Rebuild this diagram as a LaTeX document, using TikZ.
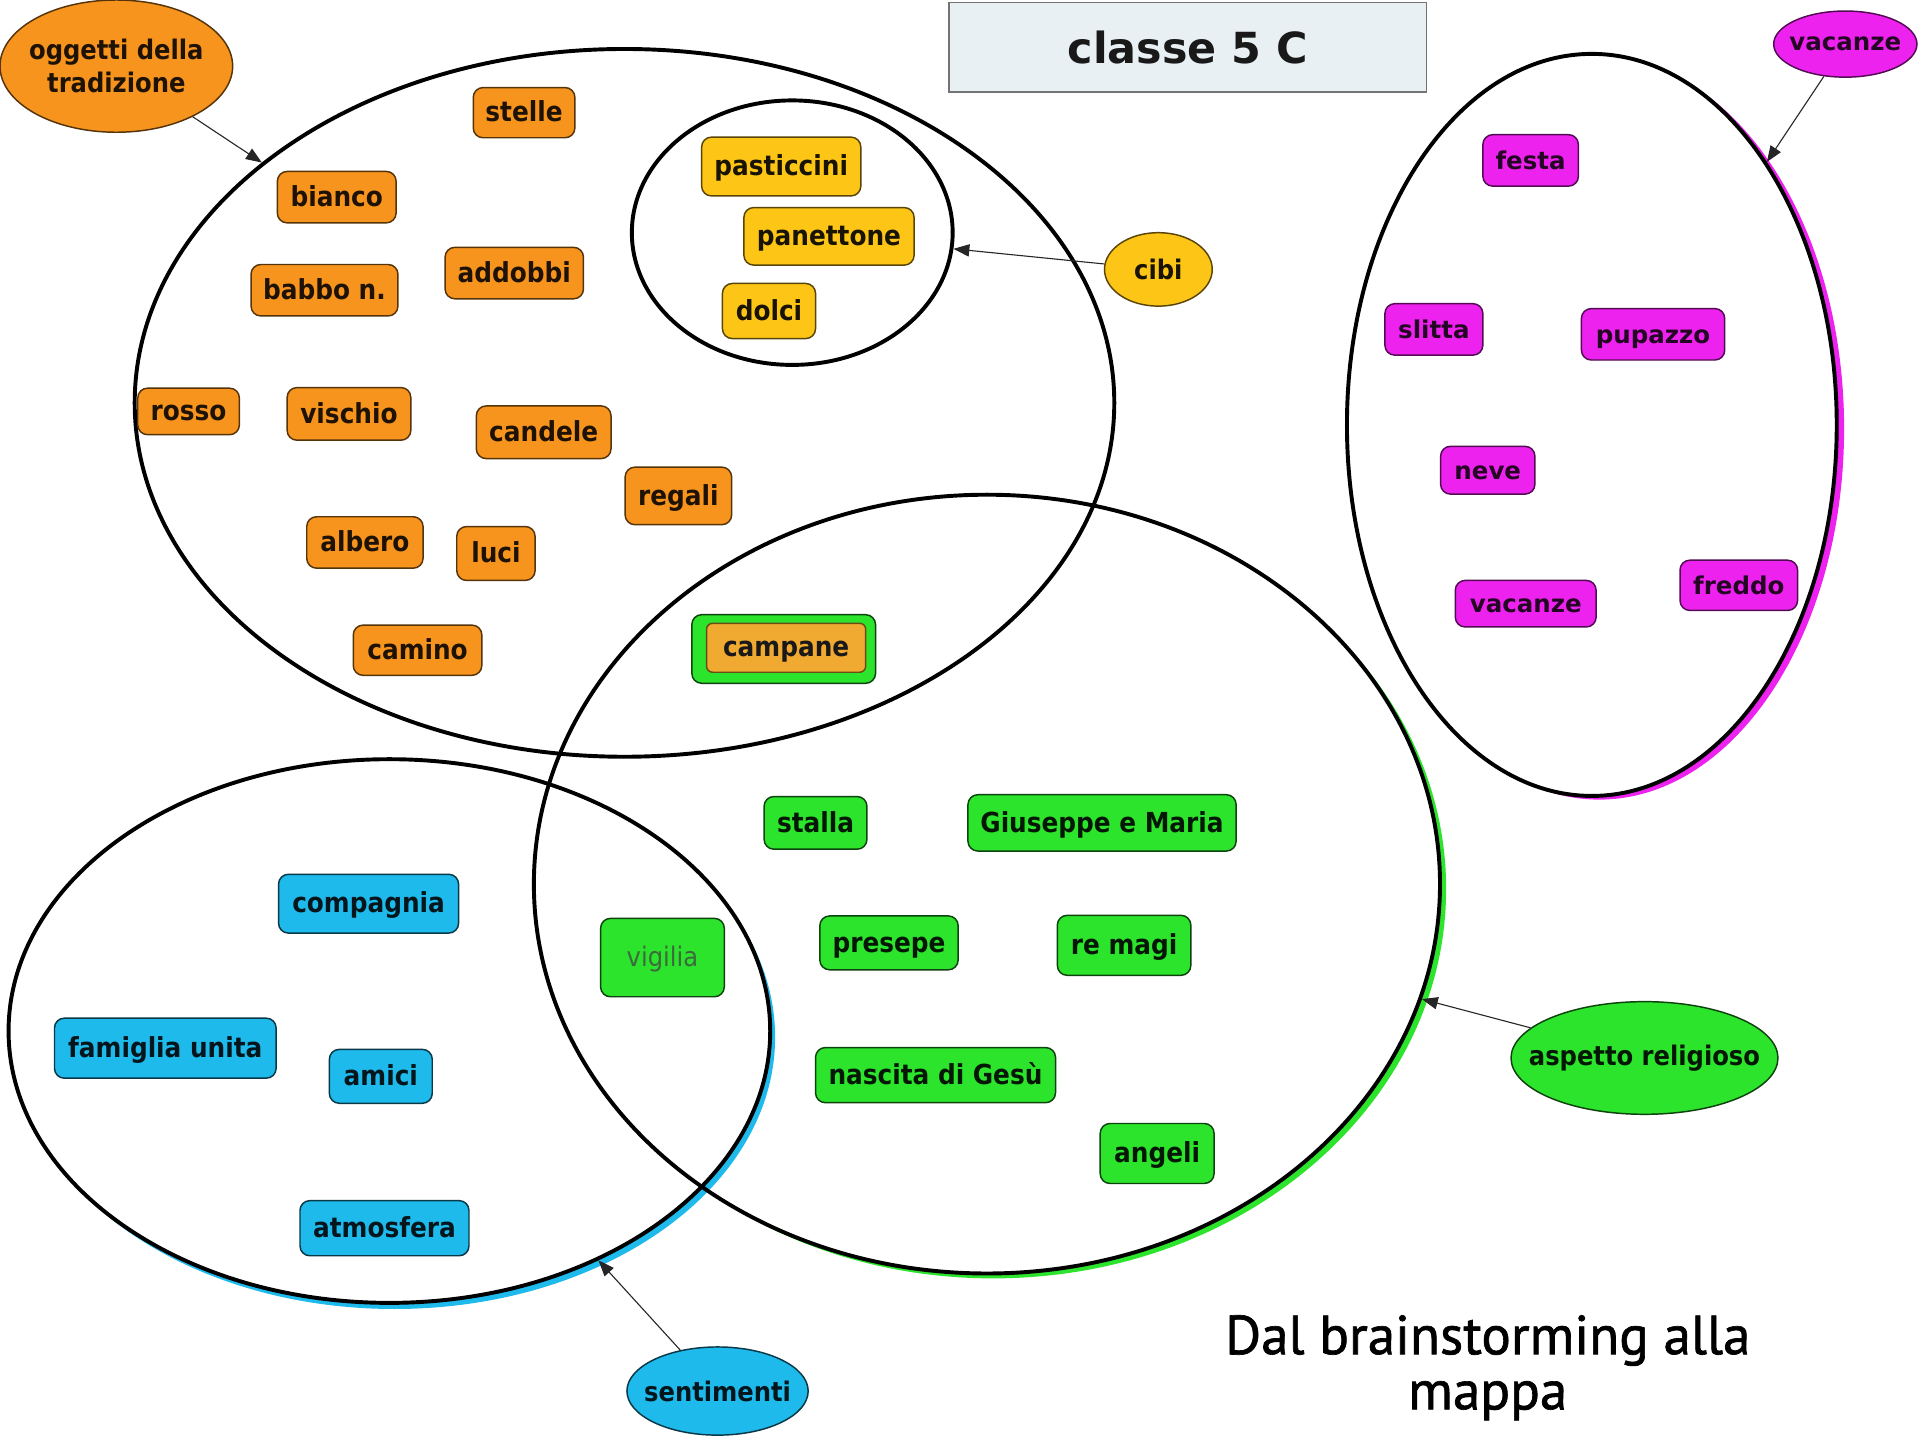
\documentclass[tikz,border=0pt]{standalone}
\usepackage{fontspec}
\usetikzlibrary{shapes.geometric,arrows.meta}

\newfontfamily\labfont{DejaVu Sans Condensed}
\newfontfamily\widefont{DejaVu Sans}
\newfontfamily\capfont[FakeBold=1.2]{PT Sans}

\definecolor{cOrange}{RGB}{247,148,30}
\definecolor{cGold}{RGB}{253,198,22}
\definecolor{cMag}{RGB}{238,34,238}
\definecolor{cGreen}{RGB}{44,228,44}
\definecolor{cBlue}{RGB}{30,186,236}
\definecolor{cTitle}{RGB}{233,240,244}
\definecolor{cCamp}{RGB}{240,170,50}

% coloured crescent under the lower right side of a ring
\newcommand{\ringshade}[7]{%
  \begin{scope}
    \clip ({#2+#6},{#3+#7}) ellipse [x radius=#4, y radius=#5];
    \fill[#1, even odd rule] (-20,-20) rectangle (1600,1200)
      (#2,#3) ellipse [x radius=#4, y radius=#5];
  \end{scope}}

\begin{document}
\begin{tikzpicture}[x=1pt,y=-1pt,
  tag/.style={rounded corners=8pt, line width=1.2pt, inner sep=2pt,
    text height=18pt, text depth=3pt,
    font=\labfont\bfseries\fontsize{22.5}{26}\selectfont},
  orangetag/.style={tag, fill=cOrange, draw=cOrange!35!black, text=cOrange!12!black},
  goldtag/.style={tag, fill=cGold, draw=cGold!35!black, text=cGold!10!black},
  magtag/.style={tag, fill=cMag, draw=cMag!35!black, text=cMag!15!black,
    font=\widefont\bfseries\fontsize{20}{24}\selectfont},
  greentag/.style={tag, fill=cGreen, draw=cGreen!30!black, text=cGreen!10!black},
  bluetag/.style={tag, fill=cBlue, draw=cBlue!30!black, text=cBlue!12!black},
  oval/.style={ellipse, inner xsep=-20pt, inner ysep=0pt, line width=1.2pt, align=center,
    font=\labfont\bfseries\fontsize{22}{27}\selectfont},
  ring/.style={ellipse, draw=black, line width=3.2pt, inner sep=0pt},
  arr/.style={-{Triangle[length=13pt,width=10pt]}, line width=0.9pt, draw=black!85},
]
\useasboundingbox (0,0) rectangle (1568,1176);
\fill[white] (0,0) rectangle (1568,1176);

% coloured shadows of the large rings
\ringshade{cMag}{1300}{347}{200}{303}{6}{3}
\ringshade{cGreen}{806}{722}{370}{318}{5}{4}
\ringshade{cBlue}{318}{842}{311}{222}{4}{5}

% large rings
\node[ring, minimum width=800pt, minimum height=578pt] (eOr) at (510,329) {};
\node[ring, minimum width=262pt, minimum height=216pt] (eFood) at (647,190) {};
\node[ring, minimum width=400pt, minimum height=606pt] (eMag) at (1300,347) {};
\node[ring, minimum width=740pt, minimum height=636pt] (eGr) at (806,722) {};
\node[ring, minimum width=622pt, minimum height=444pt] (eBl) at (318,842) {};

% title
\node[draw=black!55, line width=1.5pt, fill=cTitle, minimum width=390pt,
  minimum height=73pt, text=black!90,
  font=\widefont\bfseries\fontsize{35}{40}\selectfont] (title) at (970,38.5) {classe 5 C};

% category ovals
\node[oval, fill=cOrange, draw=cOrange!35!black, text=cOrange!12!black,
  minimum width=190pt, minimum height=108pt] (ogg) at (95,54) {oggetti della\\tradizione};
\node[oval, fill=cGold, draw=cGold!35!black, text=cGold!10!black,
  minimum width=88pt, minimum height=60pt] (cibi) at (946,220) {cibi};
\node[oval, fill=cMag, draw=cMag!35!black, text=cMag!15!black,
  font=\widefont\bfseries\fontsize{20}{24}\selectfont,
  minimum width=117pt, minimum height=54pt] (vac) at (1507,36) {vacanze};
\node[oval, fill=cGreen, draw=cGreen!30!black, text=cGreen!10!black,
  minimum width=218pt, minimum height=92pt] (asp) at (1343,864) {aspetto religioso};
\node[oval, fill=cBlue, draw=cBlue!30!black, text=cBlue!12!black,
  minimum width=148pt, minimum height=72pt] (sent) at (586,1136) {sentimenti};

% objects of the tradition
\node[orangetag, minimum width=83pt, minimum height=41pt] (stelle) at (428,92) {stelle};
\node[orangetag, minimum width=97pt, minimum height=42pt] (bianco) at (275,161) {bianco};
\node[orangetag, minimum width=120pt, minimum height=42pt] (babbo) at (265,237) {babbo n.};
\node[orangetag, minimum width=113pt, minimum height=42pt] (addobbi) at (420,223) {addobbi};
\node[orangetag, minimum width=83pt, minimum height=38pt] (rosso) at (154,336) {rosso};
\node[orangetag, minimum width=101pt, minimum height=43pt] (vischio) at (285,338) {vischio};
\node[orangetag, minimum width=110pt, minimum height=43pt] (candele) at (444,353) {candele};
\node[orangetag, minimum width=87pt, minimum height=47pt] (regali) at (554,405) {regali};
\node[orangetag, minimum width=95pt, minimum height=42pt] (albero) at (298,443) {albero};
\node[orangetag, minimum width=64pt, minimum height=44pt] (luci) at (405,452) {luci};
\node[orangetag, minimum width=105pt, minimum height=41pt] (camino) at (341,531) {camino};

% food
\node[goldtag, minimum width=130pt, minimum height=48pt] (pasticcini) at (638,136) {pasticcini};
\node[goldtag, minimum width=139pt, minimum height=47pt] (panettone) at (677,193) {panettone};
\node[goldtag, minimum width=76pt, minimum height=45pt] (dolci) at (628,254) {dolci};

% holidays
\node[magtag, minimum width=78pt, minimum height=42pt] (festa) at (1250,131) {festa};
\node[magtag, minimum width=80pt, minimum height=42pt] (slitta) at (1171,269) {slitta};
\node[magtag, minimum width=117pt, minimum height=42pt] (pupazzo) at (1350,273) {pupazzo};
\node[magtag, minimum width=77pt, minimum height=39pt] (neve) at (1215,384) {neve};
\node[magtag, minimum width=115pt, minimum height=38pt] (vacanze) at (1246,493) {vacanze};
\node[magtag, minimum width=96pt, minimum height=41pt] (freddo) at (1420,478) {freddo};

% religious side
\node[greentag, minimum width=150pt, minimum height=56pt] (campOut) at (640,530) {};
\node[tag, fill=cCamp, draw=cCamp!45!black, text=black!90, rounded corners=5pt,
  minimum width=130pt, minimum height=40pt] (campane) at (642,529) {campane};
\node[greentag, minimum width=84pt, minimum height=43pt] (stalla) at (666,672) {stalla};
\node[greentag, minimum width=219pt, minimum height=46pt] (giuseppe) at (900,672) {Giuseppe e Maria};
\node[greentag, minimum width=101pt, minimum height=64pt, text=cGreen!30!black!80,
  font=\labfont\fontsize{22}{26}\selectfont] (vigilia) at (541,782) {vigilia};
\node[greentag, minimum width=113pt, minimum height=44pt] (presepe) at (726,770) {presepe};
\node[greentag, minimum width=109pt, minimum height=49pt] (remagi) at (918,772) {re magi};
\node[greentag, minimum width=196pt, minimum height=45pt] (nascita) at (764,878) {nascita di Gesù};
\node[greentag, minimum width=93pt, minimum height=49pt] (angeli) at (945,942) {angeli};

% feelings
\node[bluetag, minimum width=147pt, minimum height=48pt] (compagnia) at (301,738) {compagnia};
\node[bluetag, minimum width=181pt, minimum height=49pt] (famiglia) at (135,856) {famiglia unita};
\node[bluetag, minimum width=84pt, minimum height=44pt] (amici) at (311,879) {amici};
\node[bluetag, minimum width=138pt, minimum height=45pt] (atmosfera) at (314,1003) {atmosfera};

% pointers from the categories to their rings
\draw[arr] (ogg) -- (eOr);
\draw[arr] (cibi) -- (eFood);
\draw[arr] (vac) -- (eMag);
\draw[arr] (asp) -- (eGr);
\draw[arr] (sent) -- (eBl);

% caption
\node[align=center, font=\capfont\fontsize{45}{45}\selectfont] (caption) at (1215,1117)
  {Dal brainstorming alla\\mappa};
\end{tikzpicture}
\end{document}
